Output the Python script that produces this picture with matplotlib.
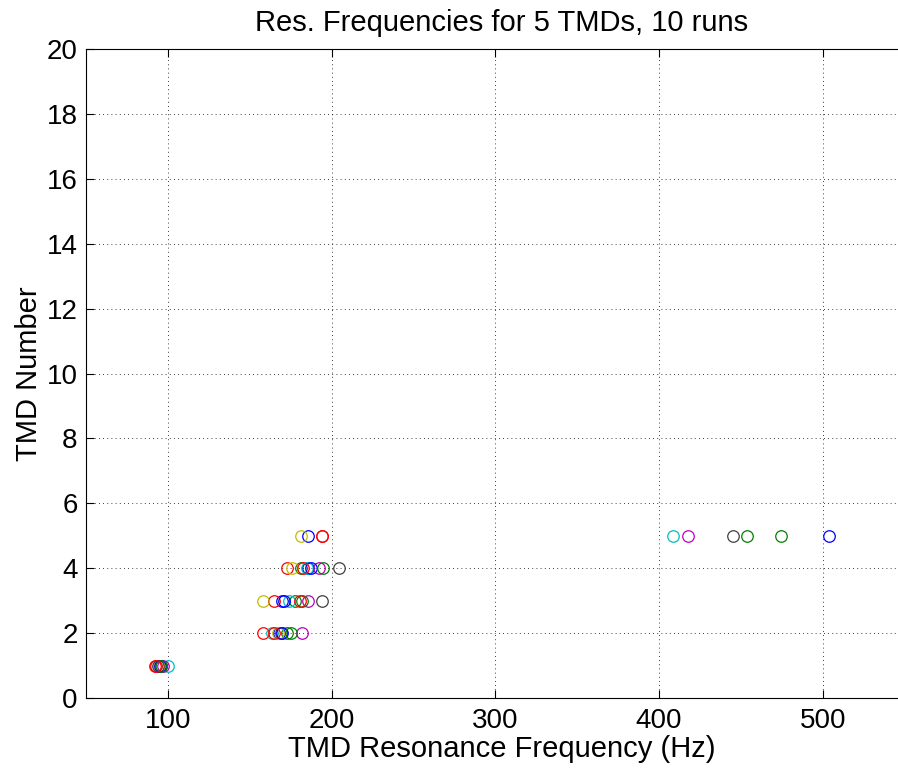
import numpy as np
import matplotlib
matplotlib.use("Agg")
import matplotlib.pyplot as plt

plt.rcParams["font.family"] = ["Liberation Sans", "DejaVu Sans"]

# one colour per run (MATLAB default colour order, cycled)
run_colors = [
    (0, 0, 1), (0, 0.5, 0), (1, 0, 0), (0, 0.75, 0.75), (0.75, 0, 0.75),
    (0.75, 0.75, 0), (0.25, 0.25, 0.25), (0, 0, 1), (0, 0.5, 0), (1, 0, 0),
]
tmd_numbers = [1, 2, 3, 4, 5]

# resonance frequency (Hz) of each TMD, listed by run
tmd1 = [95.5, 96.0, 92.2, 100.2, 97.1, 94.5, 94.1, 95.0, 95.5, 92.5]
tmd2 = [168.1, 172.6, 158.3, 163.4, 181.6, 167.0, 169.0, 169.8, 175.0, 164.9]
tmd3 = [169.5, 177.7, 164.8, 174.2, 185.8, 158.3, 194.0, 171.1, 182.0, 180.7]
tmd4 = [185.3, 181.2, 172.5, 184.8, 192.5, 175.5, 204.3, 187.2, 195.0, 182.3]
tmd5 = [185.8, 453.5, 194.0, 408.7, 417.6, 181.3, 445.4, 503.5, 474.3, 194.0]

freqs = np.array([tmd1, tmd2, tmd3, tmd4, tmd5])

fig = plt.figure(figsize=(8.98, 7.69), dpi=100)
# right edge of the axes lies past the figure border, as in the original
ax = fig.add_axes([0.0958, 0.0923, 0.925, 0.8440])

for run in range(freqs.shape[1]):
    ax.plot(freqs[:, run], tmd_numbers, "o", mfc="none", mec=run_colors[run],
            ms=8.3, mew=0.9, ls="none")

ax.set_xlim(50, 50 + 500 * 0.925 / 0.9117)
ax.set_ylim(0, 20)
ax.set_xticks([100, 200, 300, 400, 500])
ax.set_yticks(np.arange(0, 21, 2))
ax.spines["right"].set_visible(False)
ax.grid(True, color="k", ls=(0, (1, 4)), lw=0.6)
ax.tick_params(direction="in", top=True, right=False, labelsize=20, length=6)
ax.tick_params(axis="x", pad=7)
ax.tick_params(axis="y", pad=6)
ax.set_xlabel("TMD Resonance Frequency (Hz)", fontsize=21, labelpad=1)
ax.set_ylabel("TMD Number", fontsize=21, labelpad=3)
ax.set_title("Res. Frequencies for 5 TMDs, 10 runs", fontsize=21, pad=13)

fig.savefig("out.png", dpi=100)
